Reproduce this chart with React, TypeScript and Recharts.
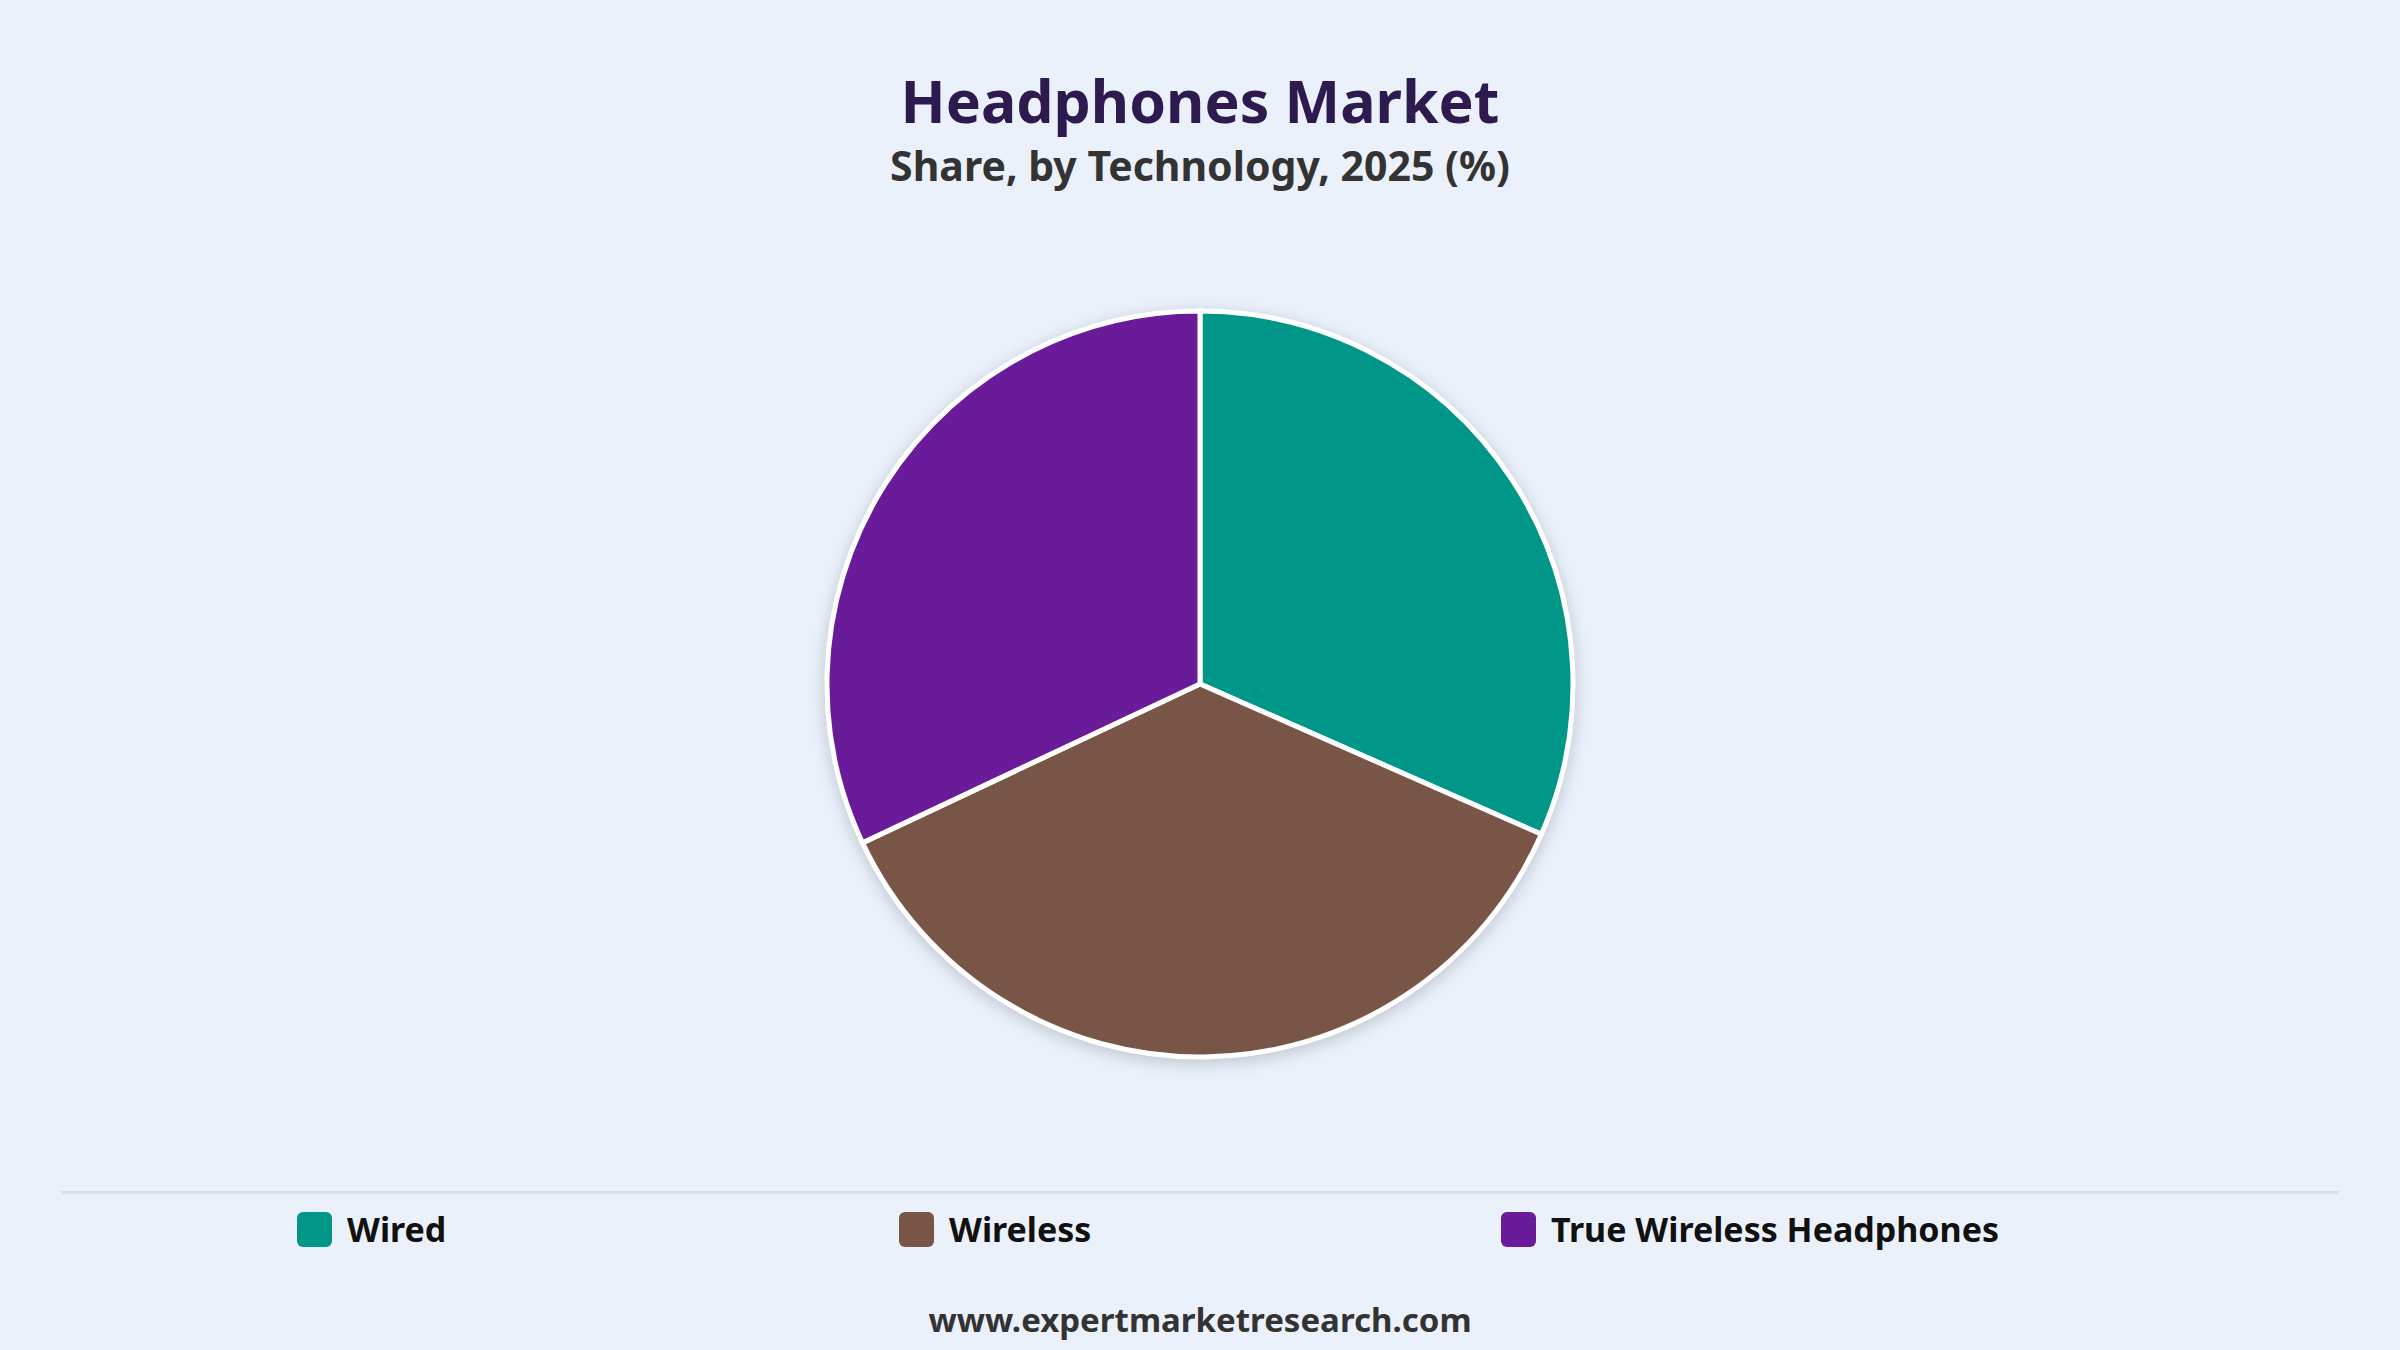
import { PieChart, Pie, Cell, Legend } from "recharts";

const categories = ["Wired", "Wireless", "True Wireless Headphones"];
const shares = [31.6, 36.4, 32.0];
const colors = ["#009688", "#795548", "#6A1B9A"];

const data = categories.map((name, i) => ({ name, value: shares[i] }));

const FONT = "'Noto Sans', 'Open Sans', sans-serif";

const renderLegend = () => (
  <div style={{ display: "flex", justifyContent: "center", width: 2400 }}>
    {categories.map((name, i) => (
      <div
        key={name}
        style={{ width: 602, display: "flex", alignItems: "center" }}
      >
        <span
          style={{
            width: 35,
            height: 35,
            borderRadius: 6,
            background: colors[i],
            marginRight: 15,
            display: "inline-block",
          }}
        />
        <span
          style={{
            fontFamily: FONT,
            fontWeight: 700,
            fontSize: 34,
            color: "#111111",
          }}
        >
          {name}
        </span>
      </div>
    ))}
  </div>
);

export default function App() {
  return (
    <div
      style={{
        position: "absolute",
        top: 0,
        left: 0,
        width: 2400,
        height: 1350,
        background: "#EAF1FB",
        overflow: "hidden",
      }}
    >
      <style>{`.recharts-pie { filter: drop-shadow(0px 4px 8px rgba(0,0,0,0.18)); }`}</style>
      <div
        style={{
          position: "absolute",
          top: 62,
          width: 2400,
          textAlign: "center",
          fontFamily: FONT,
          fontWeight: 700,
          fontSize: 59,
          lineHeight: "76px",
          color: "#2E1A4F",
        }}
      >
        Headphones Market
      </div>
      <div
        style={{
          position: "absolute",
          top: 138,
          width: 2400,
          textAlign: "center",
          fontFamily: FONT,
          fontWeight: 700,
          fontSize: 41,
          lineHeight: "54px",
          color: "#333333",
        }}
      >
        Share, by Technology, 2025 (%)
      </div>
      <div
        style={{
          position: "absolute",
          top: 1191,
          left: 61,
          width: 2278,
          height: 3,
          background: "#DCDFE4",
        }}
      />
      <div style={{ position: "absolute", top: 0, left: 0 }}>
        <PieChart
          width={2400}
          height={1350}
          margin={{ top: 0, right: 0, bottom: 0, left: 0 }}
        >
          <Pie
            data={data}
            dataKey="value"
            nameKey="name"
            cx={1200}
            cy={684}
            outerRadius={373}
            startAngle={90}
            endAngle={-270}
            stroke="#FFFFFF"
            strokeWidth={5}
            isAnimationActive={false}
          >
            {data.map((entry, i) => (
              <Cell key={`cell-${i}`} fill={colors[i]} />
            ))}
          </Pie>
          <Legend
            content={renderLegend}
            wrapperStyle={{ position: "absolute", top: 1206, left: 0, width: 2400 }}
          />
        </PieChart>
      </div>
      <div
        style={{
          position: "absolute",
          top: 1297,
          width: 2400,
          textAlign: "center",
          fontFamily: FONT,
          fontWeight: 700,
          fontSize: 33,
          lineHeight: "46px",
          color: "#333333",
        }}
      >
        www.expertmarketresearch.com
      </div>
    </div>
  );
}
